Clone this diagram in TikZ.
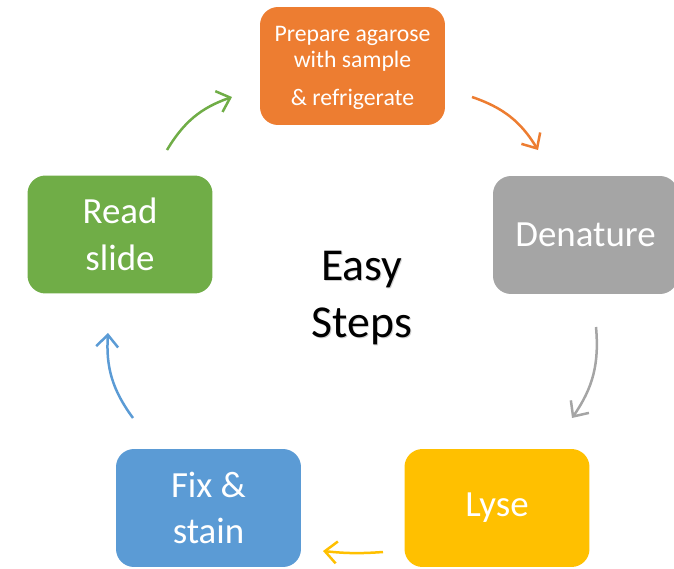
\documentclass[tikz,border=0pt]{standalone}
\usepackage{fontspec}
\setmainfont{Carlito}
\usetikzlibrary{arrows.meta}
\definecolor{prepOrange}{HTML}{ED7D31}
\definecolor{denGray}{HTML}{A5A5A5}
\definecolor{lyseYellow}{HTML}{FFC000}
\definecolor{fixBlue}{HTML}{5B9BD5}
\definecolor{readGreen}{HTML}{70AD47}

\begin{document}
\begin{tikzpicture}[x=0.02cm, y=-0.02cm,
	stepbox/.style={rounded corners=0.36cm, minimum width=3.7cm, minimum height=2.36cm, inner sep=0pt, text=white, align=center, font=\fontsize{21}{26.6}\selectfont},
	cycarrow/.style={line width=0.5mm, -{Straight Barb[length=2.4mm, width=4.4mm, line width=0.5mm]}, bend left=20}]
		%%%%% START %%%%%
		\useasboundingbox (0, 0) rectangle (674, 569);
		
		\node[stepbox, fill=prepOrange] (prep) at (352.5, 66) {};
		\node[text=white, align=center, font=\fontsize{13.5}{14.7}\selectfont] (preptext) at (352.5, 68) {Prepare agarose\\with sample\\[7pt]\& refrigerate};
		\node[stepbox, fill=denGray] (den) at (585.5, 235) {Denature};
		\node[stepbox, fill=lyseYellow] (lyse) at (497, 508) {Lyse};
		\node[stepbox, fill=fixBlue] (fix) at (208.5, 508) {Fix \&\\stain};
		\node[stepbox, fill=readGreen] (read) at (120, 234.5) {Read\\slide};
		
		\node[text=black!18, font=\fontsize{26}{32.3}\selectfont, align=center] (shadow) at (363, 299) {Easy\\Steps};
		\node[font=\fontsize{26}{32.3}\selectfont, align=center] (title) at (362, 298) {Easy\\Steps};
		
		\coordinate (g1) at (167, 150);
		\coordinate (g2) at (232, 97);
		\coordinate (o1) at (472, 97);
		\coordinate (o2) at (538, 150);
		\coordinate (d1) at (596, 327);
		\coordinate (d2) at (572, 418);
		\coordinate (y1) at (383, 552);
		\coordinate (y2) at (323, 551);
		\coordinate (b1) at (133, 418);
		\coordinate (b2) at (108, 333);
		
		\draw[cycarrow, color=readGreen] (g1) to (g2);
		\draw[cycarrow, color=prepOrange] (o1) to (o2);
		\draw[cycarrow, color=denGray] (d1) to (d2);
		\draw[cycarrow, color=lyseYellow, bend left=5] (y1) to (y2);
		\draw[cycarrow, color=fixBlue] (b1) to (b2);
		%%%%% END %%%%%
\end{tikzpicture}
\end{document}
